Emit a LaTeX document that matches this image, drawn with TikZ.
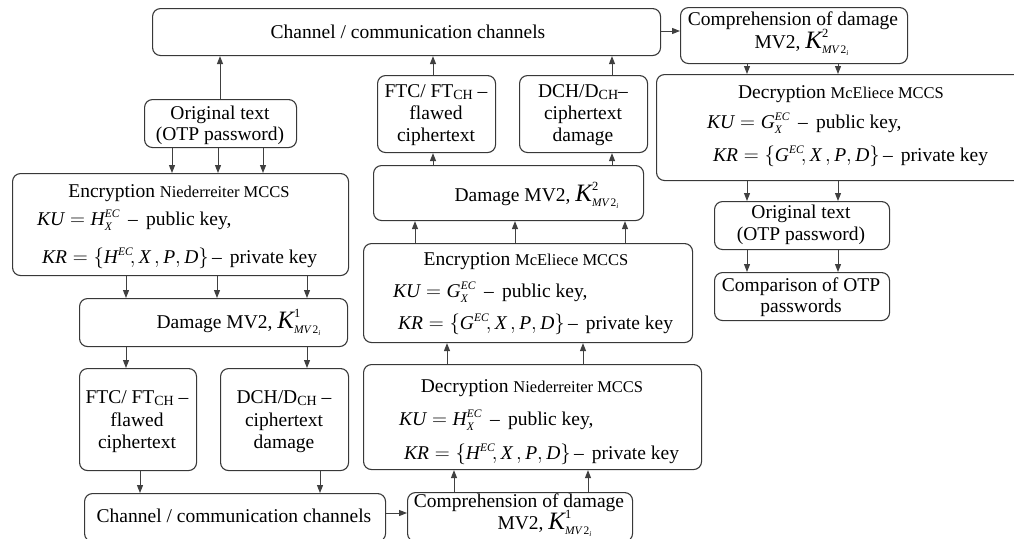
\documentclass[tikz,border=0pt]{standalone}
\usepackage{fontspec}
\setmainfont{Liberation Serif}
\usetikzlibrary{arrows.meta,calc}

% italic letters and script pieces for the key formulas
\newcommand\mi[1]{\mbox{\itshape #1}}
\newcommand\smi[1]{\mbox{\fontsize{11.5}{11.5}\selectfont\itshape #1}}
\newcommand\kmv[1]{\mi{\fontsize{25}{25}\selectfont K}^{\mbox{\fontsize{12.5}{12.5}\selectfont #1}}_{\mbox{\fontsize{11.5}{11.5}\selectfont\itshape MV\,\upshape 2}_{\mbox{\fontsize{7.5}{7.5}\selectfont\itshape i}}}}
\newcommand\algname[1]{{\fontsize{16.5}{18}\selectfont #1}}
\newcommand\chsub{\raisebox{-2.5pt}{\fontsize{14}{14}\selectfont CH}}
\newcommand\kuline[1]{$\mi{KU} = \mi{#1}^{\smi{EC}}_{\smi{X}}$ \,– \,public key,}
\newcommand\krline[1]{$\mi{KR} = \bigl\{\mi{#1}^{\smi{EC}}\!, \mi{X}\,, \mi{P}, \mi{D}\bigr\}$\,– \,private key}

\tikzset{
  box/.style={draw=black!78, line width=1.1pt, rounded corners=8pt, inner sep=0pt},
  txt/.style={inner sep=0pt, anchor=base, text height=12pt, text depth=3pt,
              font=\fontsize{19.5}{21}\selectfont},
  arr/.style={draw=black!75, line width=1pt, -{Triangle[length=8pt,width=6pt]}},
}

% box from its left, top, right and bottom edges
\newcommand\bx[5]{%
  \pgfmathsetmacro\bw{#4-#2}\pgfmathsetmacro\bh{#5-#3}%
  \node[box,minimum width=\bw pt,minimum height=\bh pt,anchor=north west] (#1) at (#2,#3) {};}
% one line of text, placed by its baseline
\newcommand\tl[5][]{\node[txt,#1] (#2) at (#3,#4) {#5};}
% vertical connectors at a given x
\newcommand\down[3]{\coordinate (cx) at (#3,0); \draw[arr] (#1.south -| cx) -- (#2.north -| cx);}
\newcommand\up[3]{\coordinate (cx) at (#3,0); \draw[arr] (#1.north -| cx) -- (#2.south -| cx);}

\begin{document}
\begin{tikzpicture}[x=1pt,y=-1pt]
\useasboundingbox (0,0) rectangle (1014,538);

% boxes
\bx{ch1}{152}{8}{660}{55}
\bx{cmp2}{680}{7}{907}{63}
\bx{orig1}{144}{99}{296}{147}
\bx{enc1}{12}{173}{348}{275}
\bx{dmg1}{79}{298}{347}{346}
\bx{ftc1}{79}{368}{196}{470}
\bx{dch1}{220}{368}{348}{470}
\bx{ch2}{84}{493}{385}{541}
\bx{cmp1}{407}{492}{632}{541}
\bx{dec1}{363}{364}{701}{469}
\bx{enc2}{363}{243}{692}{342}
\bx{dmg2}{373}{165}{643}{220}
\bx{ftc2}{377}{75}{495}{152}
\bx{dch2}{519}{75}{647}{152}
\bx{dec2}{656}{74}{1024}{180}
\bx{orig2}{714}{201}{889}{249}
\bx{cmpo}{714}{272}{889}{320}

% channel and comprehension texts
\tl{tch1}{408}{38}{Channel / communication channels}
\tl{tch2}{234}{522}{Channel / communication channels}
\tl{tcmp2a}{793}{25}{Comprehension of damage}
\tl{tcmp2b}{802}{48}{MV2, $\kmv{2}$}
\tl{tcmp1a}{519}{507}{Comprehension of damage}
\tl{tcmp1b}{545}{529}{MV2, $\kmv{1}$}

% plain text and comparison
\tl{to1a}{220}{119}{Original text}
\tl{to1b}{220}{140}{(OTP password)}
\tl{to2a}{801}{218}{Original text}
\tl{to2b}{801}{240}{(OTP password)}
\tl{tcmpoa}{801}{291}{Comparison of OTP}
\tl{tcmpob}{801}{312}{passwords}

% cipher boxes with their keys
\tl{te1}{179}{197}{Encryption \algname{Niederreiter MCCS}}
\tl[anchor=base west]{te1a}{37}{225}{\kuline{H}}
\tl[anchor=base west]{te1b}{42}{263}{\krline{H}}

\tl{td1}{532}{392}{Decryption \algname{Niederreiter MCCS}}
\tl[anchor=base west]{td1a}{399}{425}{\kuline{H}}
\tl[anchor=base west]{td1b}{404}{459}{\krline{H}}

\tl{te2}{526}{265}{Encryption \algname{McEliece MCCS}}
\tl[anchor=base west]{te2a}{393}{297}{\kuline{G}}
\tl[anchor=base west]{te2b}{398}{329}{\krline{G}}

\tl{td2}{841}{98}{Decryption \algname{McEliece MCCS}}
\tl[anchor=base west]{td2a}{707}{128}{\kuline{G}}
\tl[anchor=base west]{td2b}{713}{161}{\krline{G}}

% damage boxes
\tl{tdm1}{239}{328}{Damage MV2, $\kmv{1}$}
\tl{tdm2}{537}{201}{Damage MV2, $\kmv{2}$}

% flawed ciphertext and ciphertext damage
\tl{tf1a}{137}{403}{FTC/ FT\chsub{} –}
\tl{tf1b}{137}{426}{flawed}
\tl{tf1c}{137}{448}{ciphertext}
\tl{tdc1a}{284}{403}{DCH/D\chsub{} –}
\tl{tdc1b}{284}{426}{ciphertext}
\tl{tdc1c}{284}{448}{damage}
\tl{tf2a}{436}{97}{FTC/ FT\chsub{} –}
\tl{tf2b}{436}{119}{flawed}
\tl{tf2c}{436}{141}{ciphertext}
\tl{tdc2a}{583}{97}{DCH/D\chsub{}–}
\tl{tdc2b}{583}{119}{ciphertext}
\tl{tdc2c}{583}{141}{damage}

% connectors, left branch
\up{orig1}{ch1}{220}
\down{orig1}{enc1}{172}
\down{orig1}{enc1}{218}
\down{orig1}{enc1}{263}
\down{enc1}{dmg1}{126}
\down{enc1}{dmg1}{217}
\down{enc1}{dmg1}{307}
\down{dmg1}{ftc1}{126}
\down{dmg1}{dch1}{307}
\down{ftc1}{ch2}{140}
\down{dch1}{ch2}{320}
\coordinate (hy) at (0,513);
\draw[arr] (ch2.east |- hy) -- (cmp1.west |- hy);

% connectors, middle branch
\up{cmp1}{dec1}{454}
\up{cmp1}{dec1}{588}
\up{dec1}{enc2}{447}
\up{dec1}{enc2}{583}
\up{enc2}{dmg2}{415}
\up{enc2}{dmg2}{515}
\up{enc2}{dmg2}{625}
\up{dmg2}{ftc2}{433}
\up{dmg2}{dch2}{612}
\up{ftc2}{ch1}{433}
\up{dch2}{ch1}{612}
\coordinate (hz) at (0,31);
\draw[arr] (ch1.east |- hz) -- (cmp2.west |- hz);

% connectors, right branch
\down{cmp2}{dec2}{747}
\down{cmp2}{dec2}{838}
\down{dec2}{orig2}{747}
\down{dec2}{orig2}{838}
\down{orig2}{cmpo}{747}
\down{orig2}{cmpo}{838}
\end{tikzpicture}
\end{document}
